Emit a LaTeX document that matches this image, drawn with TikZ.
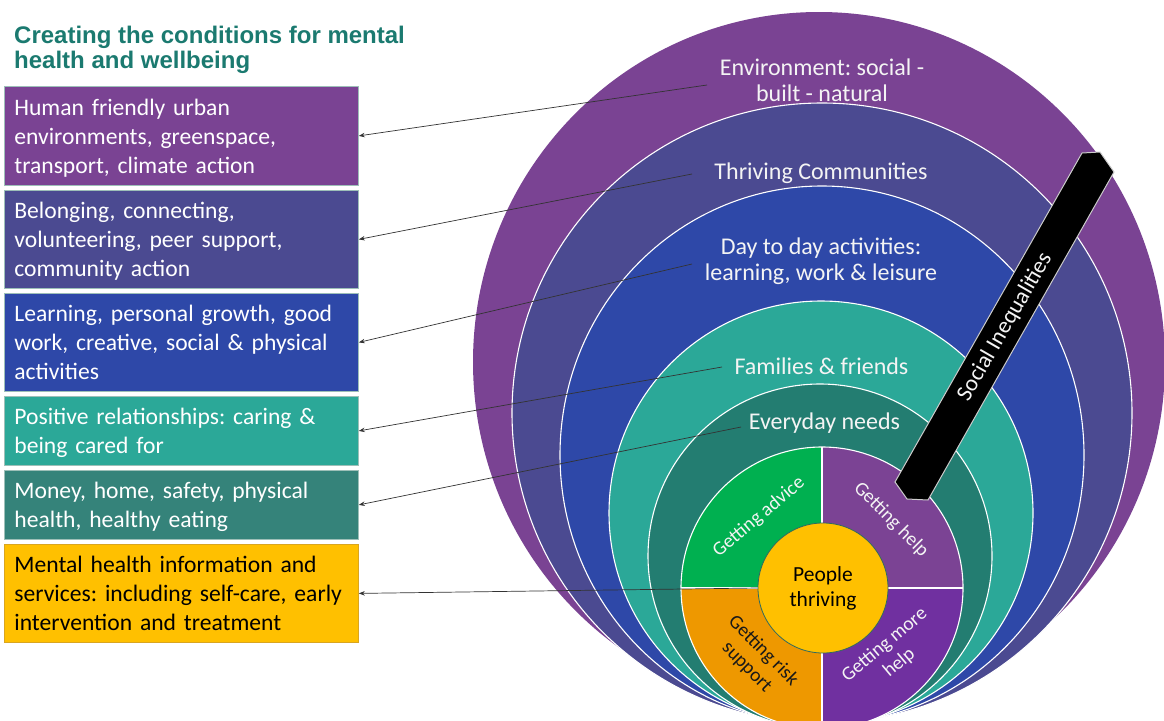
\documentclass[tikz,border=0pt]{standalone}
\usepackage{fontspec}
\setmainfont{Carlito}
\newfontfamily\titlefont{Liberation Sans}
\usetikzlibrary{arrows.meta}
\frenchspacing
\definecolor{cPurple}{HTML}{7A4393}
\definecolor{cSlate}{HTML}{4B4A91}
\definecolor{cBlue}{HTML}{2E48A8}
\definecolor{cTeal}{HTML}{2BA898}
\definecolor{cDTeal}{HTML}{237D71}
\definecolor{cBoxDT}{HTML}{35837A}
\definecolor{cGold}{HTML}{FFC000}
\definecolor{cGoldLine}{HTML}{D9A520}
\definecolor{cGreen}{HTML}{00B050}
\definecolor{cQPurple}{HTML}{7B4394}
\definecolor{cQViolet}{HTML}{7030A0}
\definecolor{cOrange}{HTML}{EE9800}
\definecolor{cTitle}{HTML}{1B7A70}
\definecolor{cBoxLine}{HTML}{9DBFB8}
\definecolor{cPeopleLine}{HTML}{2F6A5F}
\definecolor{cText}{HTML}{F4F4F4}
\newcommand\bxtop{\rule{0pt}{22pt}}
\newcommand\bxbot{\rule[-5pt]{0pt}{5pt}}
\begin{document}
\begin{tikzpicture}[x=1pt,y=-1pt,
  box/.style={draw=cBoxLine, line width=0.8pt, minimum width=354pt, text width=334pt,
    inner xsep=10pt, inner ysep=0pt, align=left, anchor=north west,
    font=\fontsize{23.6}{29}\selectfont\frenchspacing, text=white},
  ringlbl/.style={align=center, text=cText, inner sep=0pt, font=\fontsize{24}{26}\selectfont\frenchspacing},
  qlbl/.style={align=center, text=cText, inner sep=0pt, font=\fontsize{19.5}{23}\selectfont},
  ringline/.style={draw=white, line width=1.1pt},
  arr/.style={draw=black!80, line width=0.7pt, -{Stealth[length=6pt,width=4.5pt]}}
]
\useasboundingbox (0,0) rectangle (1164,720);
\fill[white] (0,0) rectangle (1164,720);

% title
\node[anchor=north west, inner sep=0pt, align=left, text=cTitle,
  font=\titlefont\bfseries\fontsize{24}{25.5}\selectfont] (title) at (14,25.5)
  {Creating the conditions for mental\\health and wellbeing};

% nested rings
\begin{scope}
\clip (0,0) rectangle (1164,720);
\fill[cPurple] (819,362) ellipse [x radius=346, y radius=350];
\filldraw[fill=cSlate, ringline] (822,413) circle (310);
\filldraw[fill=cBlue, ringline] (822,455) ellipse [x radius=262, y radius=269];
\filldraw[fill=cTeal, ringline] (821,513) circle (212);
\filldraw[fill=cDTeal, ringline] (820,556) circle (172);
% quadrants
\coordinate (Q) at (822,588);
\begin{scope}
  \clip (Q) circle (141);
  \fill[cGreen] (Q) rectangle ++(-150,-150);
  \fill[cQPurple] (Q) rectangle ++(150,-150);
  \fill[cOrange] (Q) rectangle ++(-150,150);
  \fill[cQViolet] (Q) rectangle ++(150,150);
\end{scope}
\draw[ringline] (Q) circle (141);
\draw[ringline] (822,447) -- (822,729);
\draw[ringline] (681,588) -- (963,588);
\end{scope}

% centre
\node[circle, fill=cGold, draw=cPeopleLine, line width=0.8pt, minimum size=130pt,
  inner sep=0pt, align=center, font=\fontsize{21.5}{25}\selectfont, text=black]
  (people) at (823,588) {People\\thriving};

% quadrant labels
\node[qlbl, rotate=40] (qAdvice) at (759,517) {Getting advice};
\node[qlbl, rotate=-45] (qHelp) at (891,520) {Getting help};
\node[qlbl, rotate=-45, text=black!90] (qRisk) at (755,659) {Getting risk\\support};
\node[qlbl, rotate=40] (qMore) at (892,654) {Getting more\\help};

% social inequalities bar
\filldraw[fill=black, draw=white!80!black, line width=1pt]
  (1082,153) -- (1100,152) -- (1114,172) -- (928,500) -- (907,499) -- (895,482) -- cycle;
\node[rotate=60, text=cText, inner sep=0pt, font=\fontsize{23}{26}\selectfont]
  (social) at (1005,327) {Social Inequalities};

% ring labels
\node[ringlbl] (lEnv) at (822,80) {Environment: social -\\built - natural};
\node[ringlbl] (lThr) at (821,173.5) {Thriving Communities};
\node[ringlbl] (lDay) at (821,261) {Day to day activities:\\learning, work \& leisure};
\node[ringlbl] (lFam) at (821.5,366.5) {Families \& friends};
\node[ringlbl] (lEve) at (824.5,423.5) {Everyday needs};

% boxes
\node[box, fill=cPurple, minimum height=99pt] (b1) at (4,86)
  {\bxtop Human friendly urban\\environments, greenspace,\\transport, climate action\bxbot};
\node[box, fill=cSlate, minimum height=98pt] (b2) at (4,190)
  {\bxtop Belonging, connecting,\\volunteering, peer support,\\community action\bxbot};
\node[box, fill=cBlue, minimum height=98pt] (b3) at (4,293)
  {\bxtop Learning, personal growth, good\\work, creative, social \& physical\\activities\bxbot};
\node[box, fill=cTeal, minimum height=69pt] (b4) at (4,396)
  {\bxtop Positive relationships: caring \&\\being cared for\bxbot};
\node[box, fill=cBoxDT, minimum height=69pt] (b5) at (4,470)
  {\bxtop Money, home, safety, physical\\health, healthy eating\bxbot};
\node[box, fill=cGold, draw=cGoldLine, text=black, minimum height=98pt] (b6) at (4,544)
  {\bxtop Mental health information and\\services: including self-care, early\\intervention and treatment\bxbot};

% connectors
\coordinate (s1) at (707,85);
\coordinate (s2) at (692,174);
\coordinate (s3) at (692,264);
\coordinate (s4) at (722,367);
\coordinate (s5) at (741,427);
\draw[arr] (s1) -- (b1.east);
\draw[arr] (s2) -- (b2.east);
\draw[arr] (s3) -- (b3.east);
\draw[arr] (s4) -- (b4.east);
\draw[arr] (s5) -- (b5.east);
\draw[arr] (people.west) -- (b6.east);
\end{tikzpicture}
\end{document}
